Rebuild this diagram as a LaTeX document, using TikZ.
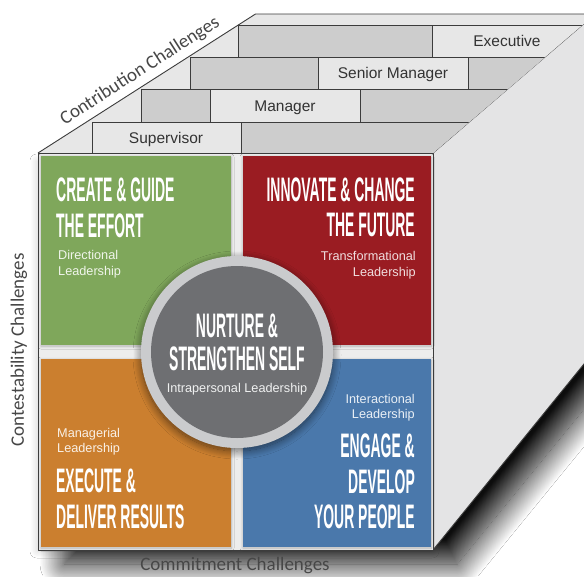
\documentclass[tikz,border=0pt]{standalone}
\usepackage{fontspec}
\usepackage{graphicx}
\setmainfont{Liberation Sans}
\newfontfamily\axisfont{Carlito}
\usetikzlibrary{shadows.blur}

% tall condensed capitals for the quadrant headings
\newcommand\narrowcaps[1]{\scalebox{0.41}[1]{#1}}

\definecolor{quadgreen}{HTML}{7FA75B}
\definecolor{quadred}{HTML}{9A1C22}
\definecolor{quadorange}{HTML}{CB7F2F}
\definecolor{quadblue}{HTML}{4A78AB}
\definecolor{coregray}{HTML}{6E6F72}
\definecolor{ringgray}{HTML}{CACBCD}
\definecolor{toplight}{HTML}{E7E7E7}
\definecolor{topdark}{HTML}{CDCDCD}
\definecolor{sideface}{HTML}{E4E4E5}
\definecolor{framegray}{HTML}{EDEDED}
\definecolor{inkgray}{HTML}{3C3C3C}

\tikzset{
  edge/.style={draw=inkgray, line width=0.9pt, line join=round},
  heading/.style={inner sep=0pt, text=white, font=\fontsize{34}{34}\selectfont\bfseries},
  subline/.style={inner sep=0pt, font=\fontsize{12.7}{13}\selectfont},
  tierlabel/.style={inner sep=0pt, text=black!80, font=\fontsize{15.5}{16}\selectfont},
  axislabel/.style={inner sep=0pt, text=black!72, font=\axisfont\fontsize{19}{20}\selectfont},
  quadshadow/.style={blur shadow={shadow xshift=0pt, shadow yshift=-1pt,
      shadow blur radius=3pt, shadow blur steps=12, shadow opacity=25}},
}

\begin{document}
\begin{tikzpicture}[x=1pt, y=-1pt]
\useasboundingbox (0,0) rectangle (584,576);
\clip (0,0) rectangle (584,576);
\fill[white] (0,0) rectangle (584,576);

% cast shadow below and to the right of the block
\path[fill=white, blur shadow={shadow xshift=24pt, shadow yshift=-16pt,
      shadow blur radius=24pt, shadow blur steps=40, shadow opacity=95}]
  (40,200) -- (40,548) -- (433,548) -- (650,282.6) -- (650,200) -- cycle;
% faint halo along the left edge
\path[fill=white, blur shadow={shadow xshift=-1pt, shadow yshift=-1pt,
      shadow blur radius=7pt, shadow blur steps=20, shadow opacity=18}]
  (38,160) rectangle (433,550);

% right side face
\fill[sideface] (433,153) -- (433,550) -- (650,282.6) -- (650,-33) -- cycle;
\draw[edge] (433,550) -- (650,282.6);
\draw[edge] (433,153) -- (650,-33);

% stepped top face
\begin{scope}
  \clip (38,153) -- (433,153) -- (595.4,14) -- (255.5,14) -- cycle;
  \fill[toplight] (0,0) rectangle (620,160);
  \fill[topdark] (241,122) rectangle (620,153);
  \fill[topdark] (141,89) rectangle (210,122);
  \fill[topdark] (360,89) rectangle (620,122);
  \fill[topdark] (190,57) rectangle (318,89);
  \fill[topdark] (468,57) rectangle (620,89);
  \fill[topdark] (238,25) rectangle (432,57);
  \draw[edge] (92,153) -- (92,122) -- (620,122);
  \draw[edge] (241,153) -- (241,122);
  \draw[edge] (141,122) -- (141,89) -- (620,89);
  \draw[edge] (210,122) -- (210,89);
  \draw[edge] (360,122) -- (360,89);
  \draw[edge] (190,89) -- (190,57) -- (620,57);
  \draw[edge] (318,89) -- (318,57);
  \draw[edge] (468,89) -- (468,57);
  \draw[edge] (238,57) -- (238,25) -- (620,25);
  \draw[edge] (432,57) -- (432,25);
\end{scope}
\draw[edge] (38,153) -- (255.5,14) -- (620,14);

% tier labels on the steps
\node[tierlabel, anchor=base] (supervisor) at (166,143) {Supervisor};
\node[tierlabel, anchor=base] (manager) at (285,111) {Manager};
\node[tierlabel, anchor=base] (senior) at (393,78.5) {Senior Manager};
\node[tierlabel, anchor=base] (executive) at (507,46.5) {Executive};

% front face
\fill[framegray] (38,153) rectangle (433,550);
\fill[quadgreen, quadshadow] (41,156) rectangle (231,345);
\fill[quadred, quadshadow] (243,156) rectangle (431,345);
\fill[quadorange, quadshadow] (41,359) rectangle (231,547);
\fill[quadblue, quadshadow] (243,359) rectangle (431,547);
\draw[edge] (38,153) rectangle (433,550);

% centre disc
\fill[ringgray, blur shadow={shadow xshift=0pt, shadow yshift=-3pt,
      shadow blur radius=8pt, shadow blur steps=16, shadow opacity=55}] (237,352) circle [radius=96];
\fill[coregray] (237,352) circle [radius=86];

% green quadrant
\node[heading, anchor=base west] (createA) at (56,201) {\narrowcaps{CREATE \& GUIDE}};
\node[heading, anchor=base west] (createB) at (56,237) {\narrowcaps{THE EFFORT}};
\node[subline, text=white!88!quadgreen, anchor=base west] (dirA) at (58,259) {Directional};
\node[subline, text=white!88!quadgreen, anchor=base west] (dirB) at (58,275) {Leadership};

% red quadrant
\node[heading, anchor=base east] (innovA) at (415,201) {\narrowcaps{INNOVATE \& CHANGE}};
\node[heading, anchor=base east] (innovB) at (415,236) {\narrowcaps{THE FUTURE}};
\node[subline, text=white!85!quadred, anchor=base east] (transA) at (416,260) {Transformational};
\node[subline, text=white!85!quadred, anchor=base east] (transB) at (416,276) {Leadership};

% orange quadrant
\node[subline, text=white!88!quadorange, anchor=base west] (manA) at (57,437) {Managerial};
\node[subline, text=white!88!quadorange, anchor=base west] (manB) at (57,452) {Leadership};
\node[heading, anchor=base west] (execA) at (56,492) {\narrowcaps{EXECUTE \&}};
\node[heading, anchor=base west] (execB) at (56,528) {\narrowcaps{DELIVER RESULTS}};

% blue quadrant
\node[subline, text=white!88!quadblue, anchor=base east] (interA) at (415,403) {Interactional};
\node[subline, text=white!88!quadblue, anchor=base east] (interB) at (415,418) {Leadership};
\node[heading, anchor=base east] (engA) at (415,457) {\narrowcaps{ENGAGE \&}};
\node[heading, anchor=base east] (engB) at (415,493) {\narrowcaps{DEVELOP}};
\node[heading, anchor=base east] (engC) at (415,528) {\narrowcaps{YOUR PEOPLE}};

% centre text
\node[heading, anchor=base] (coreA) at (237,337) {\narrowcaps{NURTURE \&}};
\node[heading, anchor=base] (coreB) at (237,370) {\narrowcaps{STRENGTHEN SELF}};
\node[subline, text=white!90!coregray, anchor=base] (coreC) at (237,392) {Intrapersonal Leadership};

% axis captions
\node[axislabel, rotate=32.7] (contribution) at (140,71) {Contribution Challenges};
\node[axislabel, rotate=90] (contestability) at (19,350) {Contestability Challenges};
\node[axislabel] (commitment) at (235,566) {Commitment Challenges};
\end{tikzpicture}
\end{document}
